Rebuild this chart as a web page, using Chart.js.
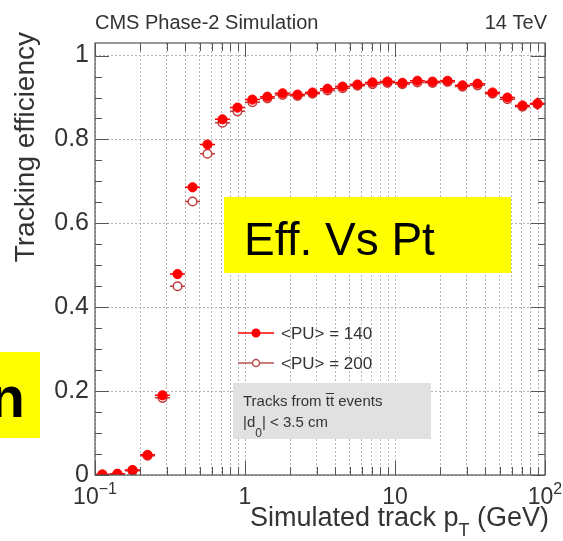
<!DOCTYPE html>
<html>
<head>
<meta charset="utf-8">
<script src="https://cdn.jsdelivr.net/npm/chart.js@4.4.1/dist/chart.umd.min.js"></script>
<style>
  html, body { margin: 0; padding: 0; background: #fff; }
  #wrap { position: relative; width: 563px; height: 541px; }
</style>
</head>
<body>
<div id="wrap"><canvas id="effChart"></canvas></div>
<script>
// pT bins (GeV), log spaced
const binEdges = [0.1, 0.126, 0.158, 0.2, 0.251, 0.316, 0.398, 0.501, 0.631, 0.794,
                  1, 1.26, 1.58, 2, 2.51, 3.16, 3.98, 5.01, 6.31, 7.94,
                  10, 12.6, 15.8, 20, 25.1, 31.6, 39.8, 50.1, 63.1, 79.4, 100];
const ptCenters = [0.112, 0.141, 0.178, 0.224, 0.282, 0.355, 0.447, 0.562, 0.708, 0.891,
                   1.12, 1.41, 1.78, 2.24, 2.82, 3.55, 4.47, 5.62, 7.08, 8.91,
                   11.2, 14.1, 17.8, 22.4, 28.2, 35.5, 44.7, 56.2, 70.8, 89.1];

const effPU140 = [0.001, 0.003, 0.012, 0.048, 0.190, 0.479, 0.686, 0.788, 0.848, 0.876,
                  0.895, 0.902, 0.910, 0.907, 0.912, 0.921, 0.926, 0.931, 0.936, 0.938,
                  0.935, 0.940, 0.938, 0.940, 0.929, 0.933, 0.912, 0.900, 0.881, 0.886];
const effPU200 = [0.001, 0.002, 0.010, 0.046, 0.184, 0.450, 0.652, 0.766, 0.840, 0.867,
                  0.889, 0.898, 0.906, 0.904, 0.909, 0.917, 0.922, 0.928, 0.932, 0.935,
                  0.932, 0.936, 0.935, 0.937, 0.926, 0.929, 0.909, 0.896, 0.878, 0.884];
const errPU140 = [0.001, 0.001, 0.002, 0.003, 0.004, 0.004, 0.004, 0.003, 0.003, 0.003,
                  0.002, 0.002, 0.002, 0.002, 0.002, 0.002, 0.002, 0.002, 0.002, 0.002,
                  0.002, 0.003, 0.003, 0.003, 0.004, 0.005, 0.006, 0.008, 0.010, 0.014];
const errPU200 = errPU140;

const xTickValues = [0.1, 0.2, 0.3, 0.4, 0.5, 0.6, 0.7, 0.8, 0.9,
                     1, 2, 3, 4, 5, 6, 7, 8, 9,
                     10, 20, 30, 40, 50, 60, 70, 80, 90, 100];
const xMajorTicks = [0.1, 1, 10, 100];
const xTickLabels = [['10', '\u22121'], ['1', ''], ['10', ''], ['10', '2']];
const yTickValues = [0, 0.2, 0.4, 0.6, 0.8, 1];
const yTickLabels = ['0', '0.2', '0.4', '0.6', '0.8', '1'];
const yMinorStep = 0.05;

const seriesNames = ['<PU> = 140', '<PU> = 200'];
const RED = '#ff0000';
const DARKRED = '#c23b3b';
const TXT = '#333333';
const FONT = '"Liberation Sans", Arial, sans-serif';

// error bars drawn under each dataset's markers
const errorBars = {
  id: 'errorBars',
  beforeDatasetDraw(chart, args) {
    const { ctx, scales: { x, y } } = chart;
    const ds = chart.data.datasets[args.index];
    const errs = args.index === 0 ? errPU140 : errPU200;
    ctx.save();
    ctx.strokeStyle = ds.borderColor;
    ctx.lineWidth = 1.5;
    ds.data.forEach((p, i) => {
      const py = y.getPixelForValue(p.y);
      const px = x.getPixelForValue(p.x);
      ctx.beginPath();
      ctx.moveTo(x.getPixelForValue(binEdges[i]), py);
      ctx.lineTo(x.getPixelForValue(binEdges[i + 1]), py);
      ctx.moveTo(px, y.getPixelForValue(p.y - errs[i]));
      ctx.lineTo(px, y.getPixelForValue(p.y + errs[i]));
      ctx.stroke();
    });
    ctx.restore();
  }
};

// ROOT style frame, inward ticks, labels, legend and notes
const rootDecor = {
  id: 'rootDecor',
  afterDraw(chart) {
    const { ctx, chartArea: a, scales: { x, y } } = chart;
    ctx.save();

    // frame
    ctx.strokeStyle = '#555';
    ctx.lineWidth = 1.2;
    ctx.strokeRect(a.left, a.top, a.right - a.left, a.bottom - a.top);

    // ticks
    ctx.beginPath();
    xTickValues.forEach(v => {
      const px = Math.round(x.getPixelForValue(v)) + 0.5;
      const len = xMajorTicks.includes(v) ? 14 : 8;
      ctx.moveTo(px, a.bottom); ctx.lineTo(px, a.bottom - len);
      ctx.moveTo(px, a.top); ctx.lineTo(px, a.top + len);
    });
    for (let v = 0; v <= 1.0001; v += yMinorStep) {
      const py = Math.round(y.getPixelForValue(v)) + 0.5;
      const major = Math.abs(v * 5 - Math.round(v * 5)) < 1e-6;
      const len = major ? 14 : 7;
      ctx.moveTo(a.left, py); ctx.lineTo(a.left + len, py);
      ctx.moveTo(a.right, py); ctx.lineTo(a.right - len, py);
    }
    ctx.lineWidth = 1;
    ctx.stroke();

    // x tick labels with exponents
    ctx.fillStyle = TXT;
    ctx.textBaseline = 'alphabetic';
    xMajorTicks.forEach((v, i) => {
      const [base, exp] = xTickLabels[i];
      ctx.font = '23px ' + FONT;
      const wb = ctx.measureText(base).width;
      ctx.font = '16px ' + FONT;
      const we = exp ? ctx.measureText(exp).width : 0;
      const px = x.getPixelForValue(v);
      const sx = px - (wb + we) / 2;
      ctx.font = '23px ' + FONT;
      ctx.textAlign = 'left';
      ctx.fillText(base, sx, 504);
      if (exp) {
        ctx.font = '16px ' + FONT;
        ctx.fillText(exp, sx + wb, 494);
      }
    });

    // axis titles
    ctx.font = '27px ' + FONT;
    const t1 = 'Simulated track p', t3 = ' (GeV)';
    const w1 = ctx.measureText(t1).width, w3 = ctx.measureText(t3).width;
    ctx.font = '18px ' + FONT;
    const wT = ctx.measureText('T').width;
    const sx = 549 - (w1 + wT + w3);
    ctx.font = '27px ' + FONT;
    ctx.fillText(t1, sx, 526);
    ctx.fillText(t3, sx + w1 + wT, 526);
    ctx.font = '18px ' + FONT;
    ctx.fillText('T', sx + w1, 536);

    ctx.save();
    ctx.translate(34, 32);
    ctx.rotate(-Math.PI / 2);
    ctx.font = '28px ' + FONT;
    ctx.textAlign = 'right';
    ctx.fillText('Tracking efficiency', 0, 0);
    ctx.restore();

    // header
    ctx.font = '20px ' + FONT;
    ctx.textAlign = 'left';
    ctx.fillText('CMS Phase-2 Simulation', a.left, 29);
    ctx.textAlign = 'right';
    ctx.fillText('14 TeV', 547, 29);

    // legend
    const legY = [333, 363];
    chart.data.datasets.forEach((ds, i) => {
      const ly = legY[i];
      ctx.strokeStyle = i === 0 ? RED : '#b85252';
      ctx.lineWidth = 1.5;
      ctx.beginPath();
      ctx.moveTo(238, ly); ctx.lineTo(274, ly);
      ctx.stroke();
      ctx.beginPath();
      ctx.arc(256, ly, i === 0 ? 3.8 : 3.5, 0, Math.PI * 2);
      ctx.fillStyle = i === 0 ? RED : '#ffffff';
      ctx.fill();
      ctx.stroke();
      ctx.fillStyle = TXT;
      ctx.font = '17px ' + FONT;
      ctx.textAlign = 'left';
      ctx.textBaseline = 'middle';
      ctx.fillText(seriesNames[i], 281, ly + 1);
    });

    // selection note box
    ctx.textBaseline = 'alphabetic';
    ctx.fillStyle = '#e1e1e1';
    ctx.fillRect(233, 383, 198, 56);
    ctx.fillStyle = TXT;
    ctx.font = '15px ' + FONT;
    const pre = 'Tracks from ';
    const wp = ctx.measureText(pre).width;
    ctx.fillText(pre, 243, 406);
    const wtt = ctx.measureText('tt').width;
    ctx.fillText('tt', 243 + wp, 406);
    ctx.fillText(' events', 243 + wp + wtt, 406);
    ctx.strokeStyle = TXT;
    ctx.lineWidth = 1;
    ctx.beginPath();
    ctx.moveTo(243 + wp, 393.5); ctx.lineTo(243 + wp + wtt, 393.5);
    ctx.stroke();
    const wd = ctx.measureText('|d').width;
    ctx.fillText('|d', 243, 427);
    ctx.font = '12px ' + FONT;
    const w0 = ctx.measureText('0').width;
    ctx.fillText('0', 243 + wd, 437);
    ctx.font = '15px ' + FONT;
    ctx.fillText('| < 3.5 cm', 243 + wd + w0, 427);

    // slide overlays
    ctx.fillStyle = '#ffff00';
    ctx.fillRect(224, 197, 287, 76);
    ctx.fillRect(0, 352, 40, 86);
    ctx.fillStyle = '#000';
    ctx.font = '46px ' + FONT;
    ctx.textAlign = 'left';
    ctx.fillText('Eff. Vs Pt', 244, 255);
    ctx.font = 'bold 58px ' + FONT;
    ctx.textAlign = 'right';
    ctx.fillText('n', 25, 417);

    ctx.restore();
  }
};

new Chart(document.getElementById('effChart'), {
  type: 'scatter',
  data: {
    datasets: [
      {
        label: seriesNames[0],
        data: ptCenters.map((v, i) => ({ x: v, y: effPU140[i] })),
        backgroundColor: RED,
        borderColor: RED,
        borderWidth: 1,
        pointRadius: 4.6,
        pointHoverRadius: 4.6
      },
      {
        label: seriesNames[1],
        data: ptCenters.map((v, i) => ({ x: v, y: effPU200[i] })),
        backgroundColor: '#ffffff',
        borderColor: DARKRED,
        borderWidth: 1.5,
        pointRadius: 4.3,
        pointHoverRadius: 4.3
      }
    ]
  },
  options: {
    responsive: true,
    maintainAspectRatio: false,
    animation: false,
    events: [],
    layout: { padding: { top: 43, right: 18, bottom: 0, left: 0 } },
    plugins: {
      legend: { display: false },
      tooltip: { enabled: false }
    },
    scales: {
      x: {
        type: 'logarithmic',
        min: 0.1,
        max: 100,
        afterBuildTicks: s => { s.ticks = xTickValues.map(v => ({ value: v })); },
        afterFit: s => { s.height = 66; },
        ticks: { display: false },
        grid: { color: '#b5b5b5', lineWidth: 1, drawTicks: false },
        border: { display: false, dash: [2, 2] }
      },
      y: {
        min: 0,
        max: 1.03,
        afterBuildTicks: s => { s.ticks = yTickValues.map(v => ({ value: v })); },
        afterFit: s => { s.width = 95; },
        ticks: {
          color: TXT,
          padding: 6,
          font: { family: FONT, size: 25 },
          callback: (v, i) => yTickLabels[i]
        },
        grid: { color: '#b5b5b5', lineWidth: 1, drawTicks: false },
        border: { display: false, dash: [2, 2] }
      }
    }
  },
  plugins: [errorBars, rootDecor]
});
</script>
</body>
</html>
